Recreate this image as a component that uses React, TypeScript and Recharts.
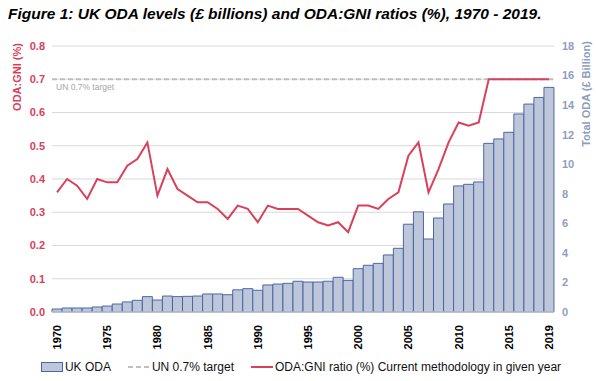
import React from "react";
import {
  ComposedChart,
  Bar,
  Line,
  XAxis,
  YAxis,
  CartesianGrid,
  ReferenceLine,
  Legend,
} from "recharts";

const years = [
  1970, 1971, 1972, 1973, 1974, 1975, 1976, 1977, 1978, 1979,
  1980, 1981, 1982, 1983, 1984, 1985, 1986, 1987, 1988, 1989,
  1990, 1991, 1992, 1993, 1994, 1995, 1996, 1997, 1998, 1999,
  2000, 2001, 2002, 2003, 2004, 2005, 2006, 2007, 2008, 2009,
  2010, 2011, 2012, 2013, 2014, 2015, 2016, 2017, 2018, 2019,
];

// UK ODA, £ billions
const odaLevels = [
  0.2, 0.27, 0.27, 0.27, 0.34, 0.4, 0.54, 0.68, 0.79, 1.04,
  0.81, 1.08, 1.04, 1.06, 1.08, 1.22, 1.22, 1.17, 1.5, 1.58,
  1.47, 1.83, 1.89, 1.94, 2.08, 2.03, 2.03, 2.08, 2.35, 2.14,
  2.93, 3.16, 3.29, 3.86, 4.31, 5.94, 6.78, 4.94, 6.36, 7.31,
  8.53, 8.64, 8.8, 11.41, 11.71, 12.16, 13.4, 14.07, 14.52, 15.2,
];

// ODA:GNI ratio, %
const odaGniRatio = [
  0.36, 0.4, 0.38, 0.34, 0.4, 0.39, 0.39, 0.44, 0.46, 0.51,
  0.35, 0.43, 0.37, 0.35, 0.33, 0.33, 0.31, 0.28, 0.32, 0.31,
  0.27, 0.32, 0.31, 0.31, 0.31, 0.29, 0.27, 0.26, 0.27, 0.24,
  0.32, 0.32, 0.31, 0.34, 0.36, 0.47, 0.51, 0.36, 0.43, 0.51,
  0.57, 0.56, 0.57, 0.7, 0.7, 0.7, 0.7, 0.7, 0.7, 0.7,
];

const yearTicks = [1970, 1975, 1980, 1985, 1990, 1995, 2000, 2005, 2010, 2015, 2019];
const ratioTicks = [0, 0.1, 0.2, 0.3, 0.4, 0.5, 0.6, 0.7, 0.8];
const odaTicks = [0, 2, 4, 6, 8, 10, 12, 14, 16, 18];
const unTarget = 0.7;

const RED = "#d9415b";
const BLUE_TEXT = "#8e9dc2";
const BAR_FILL = "#bec6da";
const BAR_STROKE = "#4a67a6";
const FONT = "'Liberation Sans', Arial, sans-serif";

const data = years.map((year, i) => ({
  year,
  oda: odaLevels[i],
  ratio: odaGniRatio[i],
}));

const YearTick = (props: any) => {
  const { x, y, payload } = props;
  return (
    <text
      transform={`translate(${x + 4},${y + 5}) rotate(-90)`}
      textAnchor="end"
      fontSize={11}
      fontWeight="bold"
      fill="#000"
      fontFamily={FONT}
    >
      {payload.value}
    </text>
  );
};

const LegendContent = () => (
  <div
    style={{
      height: 29,
      display: "flex",
      alignItems: "center",
      justifyContent: "center",
      fontFamily: FONT,
      fontSize: 12,
      color: "#111",
      paddingLeft: 6,
    }}
  >
    <svg width={22} height={10} style={{ marginRight: 2 }}>
      <rect x={0.5} y={0.5} width={21} height={9} fill={BAR_FILL} stroke={BAR_STROKE} />
    </svg>
    <span style={{ marginRight: 17 }}>UK ODA</span>
    <svg width={22} height={10} style={{ marginRight: 2 }}>
      <line x1={0} y1={5} x2={22} y2={5} stroke="#bfbfbf" strokeWidth={2} strokeDasharray="5 3" />
    </svg>
    <span style={{ marginRight: 17 }}>UN 0.7% target</span>
    <svg width={22} height={10} style={{ marginRight: 2 }}>
      <line x1={0} y1={5} x2={22} y2={5} stroke={RED} strokeWidth={2} />
    </svg>
    <span>ODA:GNI ratio (%) Current methodology in given year</span>
  </div>
);

export default function App() {
  return (
    <div
      style={{
        position: "absolute",
        left: 0,
        top: 0,
        width: 596,
        height: 381,
        background: "#fff",
        fontFamily: FONT,
      }}
    >
      <div
        style={{
          position: "absolute",
          left: 8,
          top: 5,
          fontSize: 15.5,
          fontWeight: "bold",
          fontStyle: "italic",
          color: "#000",
          whiteSpace: "nowrap",
        }}
      >
        Figure 1: UK ODA levels (£ billions) and ODA:GNI ratios (%), 1970 - 2019.
      </div>
      <ComposedChart
        width={596}
        height={381}
        data={data}
        margin={{ top: 46, right: 0, bottom: 0, left: 0 }}
        barCategoryGap={0}
        barGap={0}
      >
        <CartesianGrid vertical={false} stroke="#d9d9d9" yAxisId="left" />
        <XAxis
          dataKey="year"
          ticks={yearTicks}
          interval={0}
          height={40}
          tickLine={false}
          axisLine={{ stroke: "#d9d9d9" }}
          tick={<YearTick />}
        />
        <YAxis
          yAxisId="left"
          domain={[0, 0.8]}
          ticks={ratioTicks}
          width={52}
          tickSize={0}
          tickMargin={7}
          axisLine={false}
          tickLine={false}
          tickFormatter={(v: number) => v.toFixed(1)}
          tick={{ fill: RED, fontSize: 11, fontWeight: "bold", fontFamily: FONT }}
          label={{
            content: () => (
              <text
                transform="translate(21,77) rotate(-90)"
                textAnchor="middle"
                fill={RED}
                fontSize={11}
                fontWeight="bold"
                fontFamily={FONT}
              >
                ODA:GNI (%)
              </text>
            ),
          }}
        />
        <YAxis
          yAxisId="right"
          orientation="right"
          domain={[0, 18]}
          ticks={odaTicks}
          width={42}
          tickSize={0}
          tickMargin={8}
          axisLine={false}
          tickLine={false}
          tick={{ fill: BLUE_TEXT, fontSize: 11, fontWeight: "bold", fontFamily: FONT }}
          label={{
            content: () => (
              <text
                transform="translate(590,94) rotate(-90)"
                textAnchor="middle"
                fill={BLUE_TEXT}
                fontSize={11}
                fontWeight="bold"
                fontFamily={FONT}
              >
                Total ODA (£ Billion)
              </text>
            ),
          }}
        />
        <Bar
          yAxisId="right"
          dataKey="oda"
          name="UK ODA"
          fill={BAR_FILL}
          stroke={BAR_STROKE}
          strokeWidth={1}
          isAnimationActive={false}
        />
        <ReferenceLine
          yAxisId="left"
          y={unTarget}
          stroke="#bfbfbf"
          strokeWidth={2}
          strokeDasharray="5 3"
          label={{
            content: (p: any) => (
              <text
                x={p.viewBox.x + 4}
                y={p.viewBox.y + 11}
                fill="#a6a6a6"
                fontSize={8.5}
                fontFamily={FONT}
              >
                UN 0.7% target
              </text>
            ),
          }}
        />
        <Line
          yAxisId="left"
          type="linear"
          dataKey="ratio"
          name="ODA:GNI ratio (%) Current methodology in given year"
          stroke={RED}
          strokeWidth={2}
          dot={false}
          activeDot={false}
          isAnimationActive={false}
        />
        <Legend verticalAlign="bottom" content={<LegendContent />} />
      </ComposedChart>
    </div>
  );
}
